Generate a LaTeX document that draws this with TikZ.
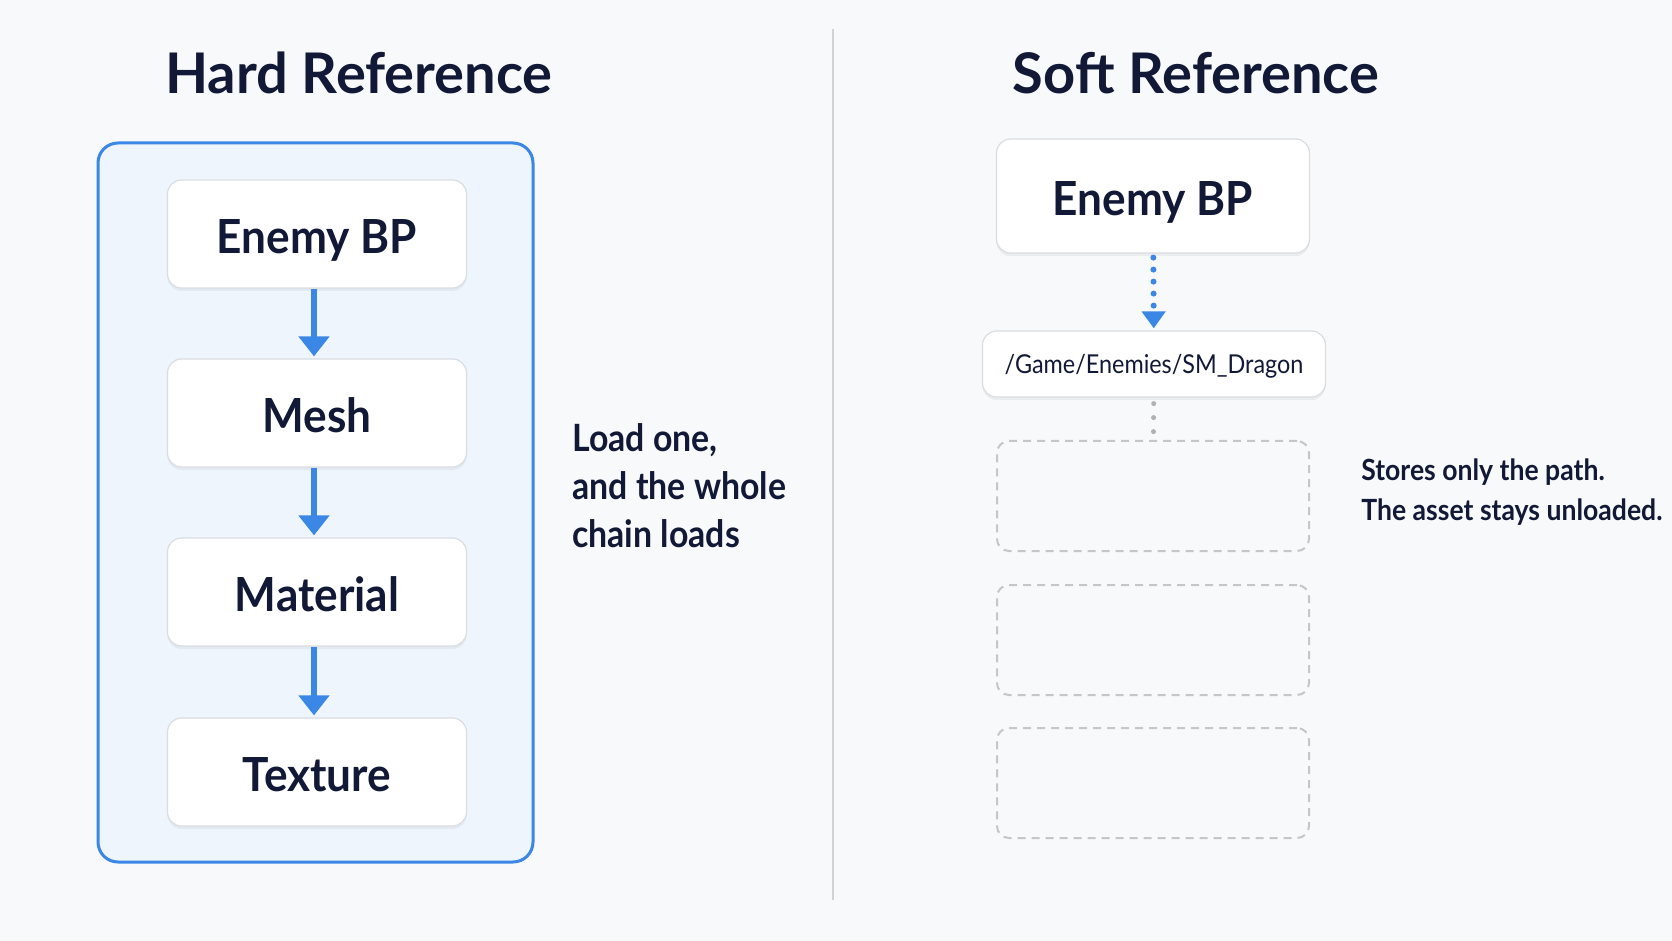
\documentclass[tikz,border=0pt]{standalone}
\usepackage{fontspec}
\setmainfont{Lato}
\newfontfamily\boxlato[FakeStretch=0.94]{Lato}
\newfontfamily\narrowlato[FakeStretch=0.9]{Lato}
\newfontfamily\notelato[FakeStretch=0.91]{Lato}
\usetikzlibrary{arrows.meta,shadows}
\definecolor{pagebg}{HTML}{F8F9FB}
\definecolor{inkdark}{HTML}{111936}
\definecolor{flowblue}{HTML}{3B87E6}
\definecolor{framefill}{HTML}{EFF5FD}
\definecolor{boxline}{HTML}{DADDE2}
\definecolor{ghostline}{HTML}{C4C6CA}
\definecolor{dotgrey}{HTML}{AEB1B6}
\definecolor{divline}{HTML}{CFD2D6}

\begin{document}
\begin{tikzpicture}[x=0.5pt,y=-0.5pt,
    heading/.style={anchor=base,text=inkdark,font=\fontsize{28}{34}\selectfont\bfseries},
    assetbox/.style={draw=boxline,fill=white,rounded corners=7pt,line width=0.6pt,
        minimum width=149.5pt,minimum height=54pt,text=inkdark,
        text height=19.5pt,text depth=0pt,
        font=\boxlato\fontsize{23.5}{28}\selectfont\bfseries,
        drop shadow={opacity=0.10,shadow xshift=0pt,shadow yshift=-1.5pt}},
    pathbox/.style={assetbox,minimum width=171.5pt,minimum height=33pt,
        text height=9.5pt,text depth=0pt,
        font=\narrowlato\fontsize{13}{16}\selectfont},
    ghostbox/.style={draw=ghostline,line width=1pt,dash pattern=on 4pt off 3pt,
        rounded corners=6pt,minimum width=156pt,minimum height=55pt},
    hardlink/.style={draw=flowblue,line width=3pt,shorten >=1pt,
        -{Triangle[width=15pt,length=10pt]}},
    softlink/.style={draw=flowblue,line width=3pt,line cap=round,
        dash pattern=on 0pt off 6pt,shorten <=2pt,shorten >=1pt,
        -{Triangle[width=11.5pt,length=8.5pt]}},
    ghostlink/.style={draw=dotgrey,line width=2.5pt,line cap=round,
        dash pattern=on 0pt off 7pt,shorten <=3pt,shorten >=4pt},
    note/.style={anchor=west,align=left,inner sep=0pt,text=inkdark}]
    \fill[pagebg] (0,0) rectangle (1672,941);
    \useasboundingbox (0,0) rectangle (1672,941);
    % hard reference side
    \node[heading] (hardtitle) at (359,94) {Hard Reference};
    \draw[draw=flowblue,fill=framefill,line width=1.5pt,rounded corners=10pt] (98,143) rectangle (533,862);
    \node[assetbox] (enemyL) at (317,234) {Enemy BP};
    \node[assetbox] (meshL) at (317,413) {Mesh};
    \node[assetbox] (materialL) at (317,592) {Material};
    \node[assetbox] (textureL) at (317,772) {Texture};
    \draw[hardlink] ([xshift=-1.5pt]enemyL.south) -- ([xshift=-1.5pt]meshL.north);
    \draw[hardlink] ([xshift=-1.5pt]meshL.south) -- ([xshift=-1.5pt]materialL.north);
    \draw[hardlink] ([xshift=-1.5pt]materialL.south) -- ([xshift=-1.5pt]textureL.north);
    \node[note,font=\narrowlato\fontsize{18.8}{24}\selectfont\bfseries] (hardnote) at (572,486)
        {Load one,\\and the whole\\chain loads};
    % divider
    \draw[divline,line width=1pt] (833,29) -- (833,900);
    % soft reference side
    \node[heading] (softtitle) at (1196,94) {Soft Reference};
    \node[assetbox,minimum width=156.5pt,minimum height=57pt] (enemyR) at (1153,196) {Enemy BP};
    \node[pathbox] (assetpath) at (1154,364) {/Game/Enemies/SM\_Dragon};
    \node[ghostbox] (ghostA) at (1153,496) {};
    \node[ghostbox] (ghostB) at (1153,640) {};
    \node[ghostbox] (ghostC) at (1153,783) {};
    \draw[softlink] (enemyR) -- (assetpath);
    \draw[ghostlink] (assetpath) -- (ghostA);
    \node[note,font=\notelato\fontsize{14.6}{20}\selectfont\bfseries] (softnote) at (1361,492)
        {Stores only the path.\\The asset stays unloaded.};
\end{tikzpicture}
\end{document}
